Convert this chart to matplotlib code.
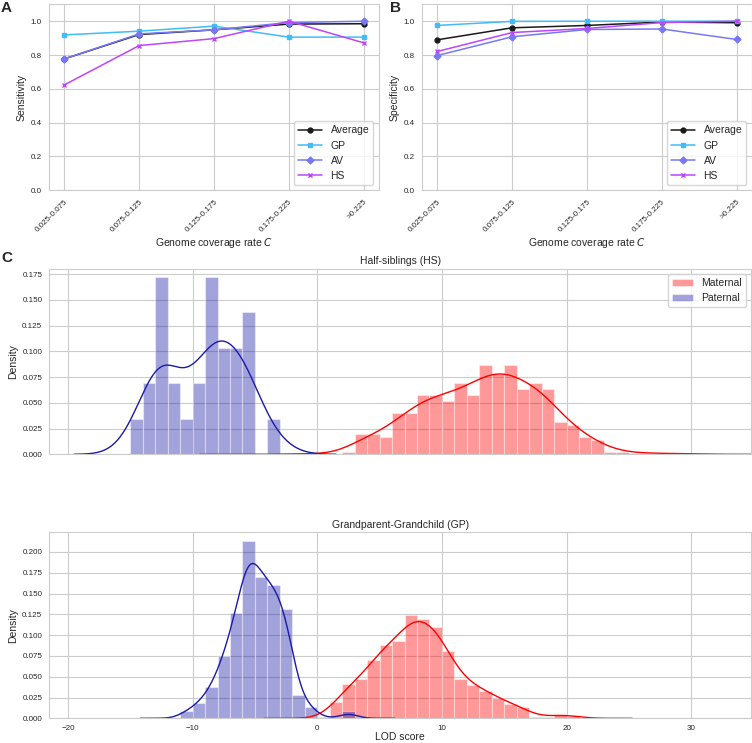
import numpy as np
import matplotlib
matplotlib.use("Agg")
import matplotlib.pyplot as plt
from matplotlib.ticker import MultipleLocator
import seaborn as sns

sns.set_style("whitegrid")
plt.rcParams["font.family"] = ["Liberation Sans", "DejaVu Sans"]

# panel A / B data
coverage = ["0.025-0.075", "0.075-0.125", "0.125-0.175", "0.175-0.225", ">0.225"]
groups = ["Average", "GP", "AV", "HS"]

sens_avg = [0.777, 0.921, 0.949, 0.983, 0.985]
sens_gp = [0.919, 0.941, 0.971, 0.906, 0.906]
sens_av = [0.777, 0.925, 0.949, 0.992, 1.0]
sens_hs = [0.623, 0.856, 0.897, 1.0, 0.872]

spec_avg = [0.890, 0.961, 0.975, 0.995, 0.991]
spec_gp = [0.975, 0.999, 1.0, 1.0, 1.0]
spec_av = [0.797, 0.908, 0.951, 0.954, 0.892]
spec_hs = [0.821, 0.933, 0.957, 0.992, 1.0]

# panel C data: density per 1-unit LOD bin, first bin left edge given
hs_mat_left = -2
hs_mat = [0.0008, 0.0008, 0, 0, 0.0025, 0.020, 0.020, 0.017, 0.040, 0.040,
          0.0578, 0.0578, 0.052, 0.0694, 0.0578, 0.0867, 0.078, 0.0867, 0.0633,
          0.0694, 0.0633, 0.0315, 0.0285, 0.0168, 0.0139, 0.0022, 0.0022,
          0.0015, 0.001, 0.001, 0.0007, 0.0007, 0.0005]
hs_pat_left = -15
hs_pat = [0.0345, 0.069, 0.172, 0.069, 0.0345, 0.069, 0.172, 0.1035, 0.1035,
          0.138, 0.0, 0.0345]

gp_mat_left = 0
gp_mat = [0.002, 0.0201, 0.041, 0.0471, 0.070, 0.0885, 0.093, 0.124,
          0.120, 0.1095, 0.0805, 0.0471, 0.0406, 0.033, 0.0245, 0.0177, 0.0137,
          0.0016, 0.0014, 0.0055, 0.0032]
gp_pat_left = -11
gp_pat = [0.0088, 0.0185, 0.0374, 0.0752, 0.127, 0.213, 0.170, 0.1606, 0.132,
          0.0278, 0.0137, 0, 0, 0.0088]

colors = {"Average": "#1a1a1a", "GP": "#40bdf8", "AV": "#7878f5", "HS": "#bf45fa"}
markers = {"Average": "o", "GP": "s", "AV": "D", "HS": "x"}

W, H = 752, 743
fig = plt.figure(figsize=(W / 100, H / 100), dpi=100)


def px_axes(l, t, r, b, **kw):
    return fig.add_axes([l / W, 1 - b / H, (r - l) / W, (b - t) / H], **kw)


def line_panel(ax, series, ylabel):
    for name, vals in zip(groups, series):
        ax.plot(coverage, vals, color=colors[name], marker=markers[name],
                ms=3.5, lw=1.1, mew=1.0, label=name)
    ax.set_xlim(-0.2, 4.2)
    ax.set_ylim(0, 1.1)
    ax.set_ylabel(ylabel, fontsize=7.5, labelpad=3)
    ax.set_xlabel("Genome coverage rate $C$", fontsize=7.5, labelpad=2)
    ax.tick_params(labelsize=5.8, pad=2)
    for lab in ax.get_xticklabels():
        lab.set_rotation(45)
        lab.set_ha("right")
        lab.set_rotation_mode("anchor")
    ax.legend(loc="lower right", fontsize=7.5, handlelength=2.3)


ax_a = px_axes(49.3, 4.3, 378.7, 190.3)
line_panel(ax_a, [sens_avg, sens_gp, sens_av, sens_hs], "Sensitivity")
ax_b = px_axes(422.3, 4.3, 751.7, 190.3)
line_panel(ax_b, [spec_avg, spec_gp, spec_av, spec_hs], "Specificity")


def hist_panel(ax, mat_left, mat, pat_left, pat, mat_bw, pat_bw, title):
    for left, h, col, lab, bw in [(mat_left, mat, "red", "Maternal", mat_bw),
                                  (pat_left, pat, "#1a1aa8", "Paternal", pat_bw)]:
        edges = left + np.arange(len(h))
        ax.bar(edges, h, width=1.0, align="edge", color=col, alpha=0.4,
               edgecolor="white", linewidth=0.8, label=lab)
        sns.kdeplot(x=edges + 0.5, weights=h, bw_adjust=bw, color=col,
                    lw=1.0, ax=ax, cut=3)
    ax.set_title(title, fontsize=7.5, pad=3)
    ax.set_ylabel("Density", fontsize=7.5, labelpad=3)
    ax.yaxis.set_major_locator(MultipleLocator(0.025))
    ax.tick_params(labelsize=5.8, pad=1.5)


ax_hs = px_axes(49.3, 268.5, 751, 454.3)
ax_gp = px_axes(49.3, 532.3, 751, 718.3, sharex=ax_hs)
hist_panel(ax_hs, hs_mat_left, hs_mat, hs_pat_left, hs_pat, 0.55, 0.76,
           "Half-siblings (HS)")
hist_panel(ax_gp, gp_mat_left, gp_mat, gp_pat_left, gp_pat, 0.47, 0.5,
           "Grandparent-Grandchild (GP)")
ax_hs.set_xlim(-21.5, 34.8)
ax_hs.tick_params(labelbottom=False)
ax_hs.set_xlabel("")
ax_gp.set_xlabel("LOD score", fontsize=7.5, labelpad=0)
ax_hs.legend(loc="upper right", fontsize=7.5)

fig.text(1 / W, 1 - 8 / H, "A", fontsize=11, weight="bold", va="center")
fig.text(390 / W, 1 - 8 / H, "B", fontsize=11, weight="bold", va="center")
fig.text(1 / W, 1 - 257.5 / H, "C", fontsize=11, weight="bold", va="center")

fig.savefig("out.png", dpi=100)
